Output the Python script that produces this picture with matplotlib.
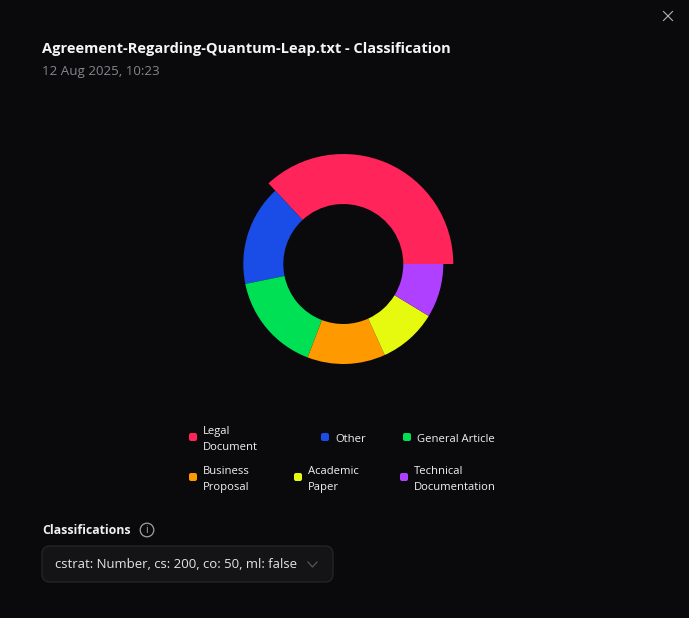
import matplotlib
matplotlib.use('Agg')
from matplotlib import pyplot as plt
from matplotlib.patches import Circle, FancyBboxPatch

plt.rcParams['font.family'] = ['Open Sans', 'DejaVu Sans']

categories = ['Legal\nDocument', 'Other', 'General Article',
              'Business\nProposal', 'Academic\nPaper', 'Technical\nDocumentation']
shares = [36.9, 16.3, 16.0, 12.6, 9.5, 8.7]
palette = ['#FF2459', '#1A4DE8', '#00E054', '#FF9900', '#E6FA10', '#B040FF']

W, H = 689, 618
BG = '#0A0A0D'

fig = plt.figure(figsize=(W / 100, H / 100), dpi=100, facecolor=BG)
ax = fig.add_axes([0, 0, 1, 1])


def flip(y):
    # screen pixels run downward, the axes run upward
    return H - y


def px(size):
    return size * 0.72


# ---- donut, the largest slice sticks out a bit
wedges, _ = ax.pie(shares, colors=palette, startangle=0, counterclock=True,
                   center=(343.3, flip(264)), radius=100,
                   wedgeprops={'width': 40, 'linewidth': 0})
wedges[0].set_radius(110)
wedges[0].set_width(50)

ax.set_xlim(0, W)
ax.set_ylim(0, H)
ax.set_aspect('equal')
ax.axis('off')

# ---- header
ax.text(42, flip(49), 'Agreement-Regarding-Quantum-Leap.txt - Classification',
        color='#F5F5F5', fontsize=px(14.6), fontweight='bold', va='center')
ax.text(42, flip(72), '12 Aug 2025, 10:23', color='#86868A', fontsize=px(13.4), va='center')

# close button
ax.plot([663.5, 672.5], [flip(11.5), flip(20.5)], color='#B4B4B8', lw=0.8)
ax.plot([663.5, 672.5], [flip(20.5), flip(11.5)], color='#B4B4B8', lw=0.8)

# ---- legend
square_x = [189, 321, 403, 189, 294, 400]
square_y = [437, 437, 437, 477, 477, 477]
label_x = [203, 335, 417, 203, 308, 414]
for name, color, sx, sy, lx in zip(categories, palette, square_x, square_y, label_x):
    ax.add_patch(FancyBboxPatch((sx + 1.5, flip(sy) - 2.5), 5, 5,
                                boxstyle='round,pad=1.5,rounding_size=2',
                                fc=color, ec='none'))
    ax.text(lx, flip(sy + 2.5), name, color='#F0F0F0', fontsize=px(11.3),
            va='center', linespacing=1.6)

# ---- dropdown
ax.text(42, flip(530), 'Classifications', color='#F0F0F0', fontsize=px(12.4),
        fontweight='bold', va='center')
ax.add_patch(Circle((147, flip(530)), 6.8, fc='none', ec='#A0A0A4', lw=0.9))
ax.text(147, flip(530.5), 'i', color='#B0B0B4', fontsize=px(10), ha='center', va='center')

ax.add_patch(FancyBboxPatch((50, flip(574)), 275, 20,
                            boxstyle='round,pad=8,rounding_size=8',
                            fc='#141417', ec='#26262A', lw=0.9))
ax.text(55, flip(564), 'cstrat: Number, cs: 200, co: 50, ml: false', color='#E4E4E6',
        fontsize=px(13.1), va='center')
ax.plot([308, 312.5, 317], [flip(562), flip(567), flip(562)], color='#55555A', lw=0.9)

fig.savefig('out.png', dpi=100, facecolor=BG)
